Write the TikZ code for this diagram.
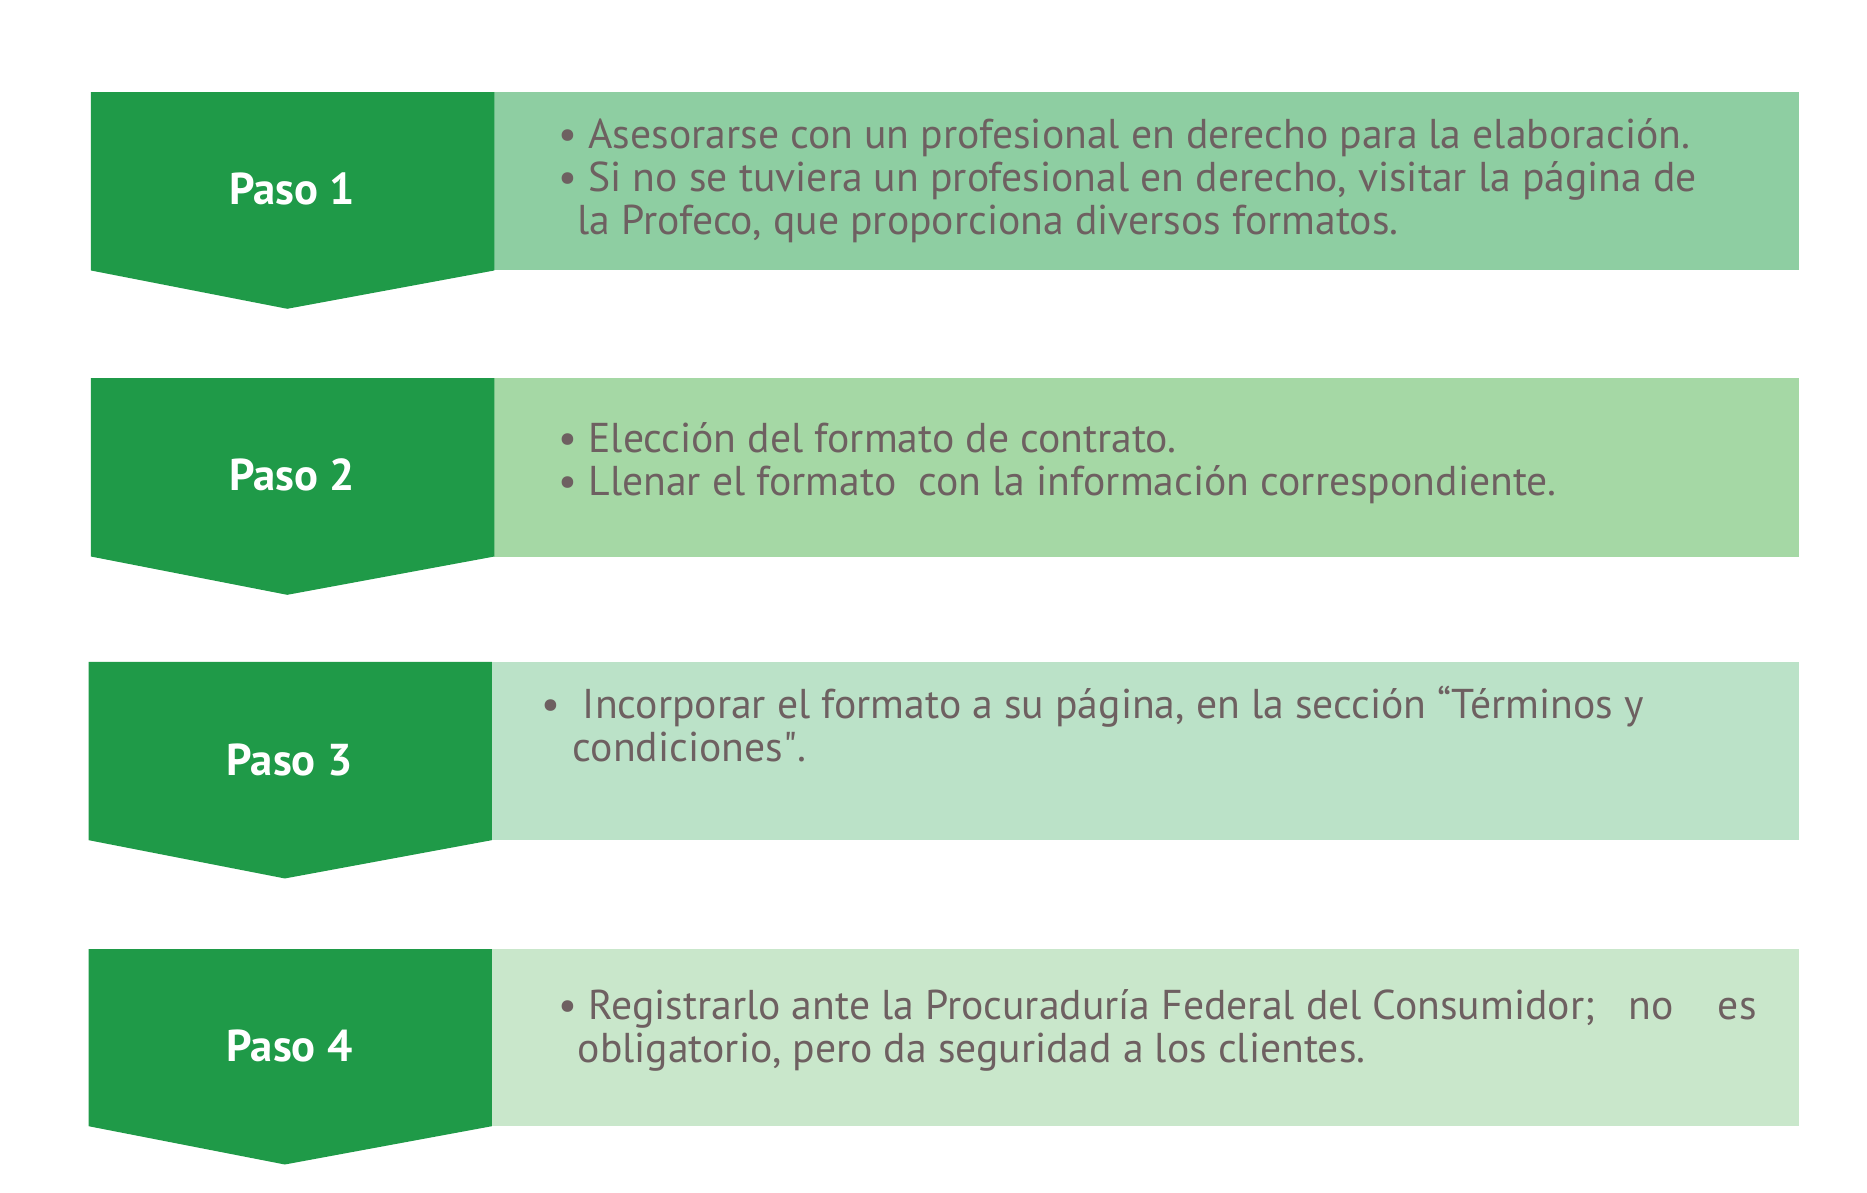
\documentclass[tikz,border=0pt]{standalone}
\usepackage{fontspec}
\setmainfont{PT Sans}
\usetikzlibrary{positioning}
\definecolor{pasogreen}{HTML}{1F9A48}
\definecolor{boxa}{HTML}{8ECEA2}
\definecolor{boxb}{HTML}{A5D8A5}
\definecolor{boxc}{HTML}{BBE2C8}
\definecolor{boxd}{HTML}{C9E7CB}
\definecolor{txtgray}{HTML}{6E6061}
\tikzset{
  pasolabel/.style={text=white,font=\fontsize{10.6}{13}\selectfont\bfseries},
  itemline/.style={anchor=base west,inner sep=0pt,text=txtgray,font=\fontsize{9.9}{12}\selectfont},
}
\begin{document}
\begin{tikzpicture}[x=0.01cm,y=-0.01cm]
\useasboundingbox (0,0) rectangle (1560,996);
% step 1
\fill [boxa] (413,77) rectangle (1503,226);
\fill [pasogreen] (76,77) -- (413,77) -- (413,226) -- (240,258) -- (76,226) -- cycle;
\node [pasolabel] (paso1) at (244,158) {Paso 1};
\node [itemline] (s1a) at (466,124) {• Asesorarse con un profesional en derecho para la elaboración.};
\node [itemline] (s1b) at (466,160) {• Si no se tuviera un profesional en derecho, visitar la página de};
\node [itemline] (s1c) at (482,196) {la Profeco, que proporciona diversos formatos.};
% step 2
\fill [boxb] (413,316) rectangle (1503,465);
\fill [pasogreen] (76,316) -- (413,316) -- (413,465) -- (240,497) -- (76,465) -- cycle;
\node [pasolabel] (paso2) at (244,397) {Paso 2};
\node [itemline] (s2a) at (466,378) {• Elección del formato de contrato.};
\node [itemline] (s2b) at (466,414) {• Llenar el formato\ \ con la información correspondiente.};
% step 3
\fill [boxc] (411,553) rectangle (1503,702);
\fill [pasogreen] (74,553) -- (411,553) -- (411,702) -- (238,734) -- (74,702) -- cycle;
\node [pasolabel] (paso3) at (242,635) {Paso 3};
\node [itemline] (s3a) at (452,600) {•\ \ Incorporar el formato a su página, en la sección “Términos y};
\node [itemline] (s3b) at (478,636) {condiciones\textquotedbl.};
% step 4
\fill [boxd] (411,793) rectangle (1503,941);
\fill [pasogreen] (74,793) -- (411,793) -- (411,941) -- (238,973) -- (74,941) -- cycle;
\node [pasolabel] (paso4) at (242,874) {Paso 4};
\node [itemline] (s4a) at (466,852) {• Registrarlo ante la Procuraduría Federal del Consumidor;\ \ \ no\ \ \ \ es};
\node [itemline] (s4b) at (482,888) {obligatorio, pero da seguridad a los clientes.};
\end{tikzpicture}
\end{document}
